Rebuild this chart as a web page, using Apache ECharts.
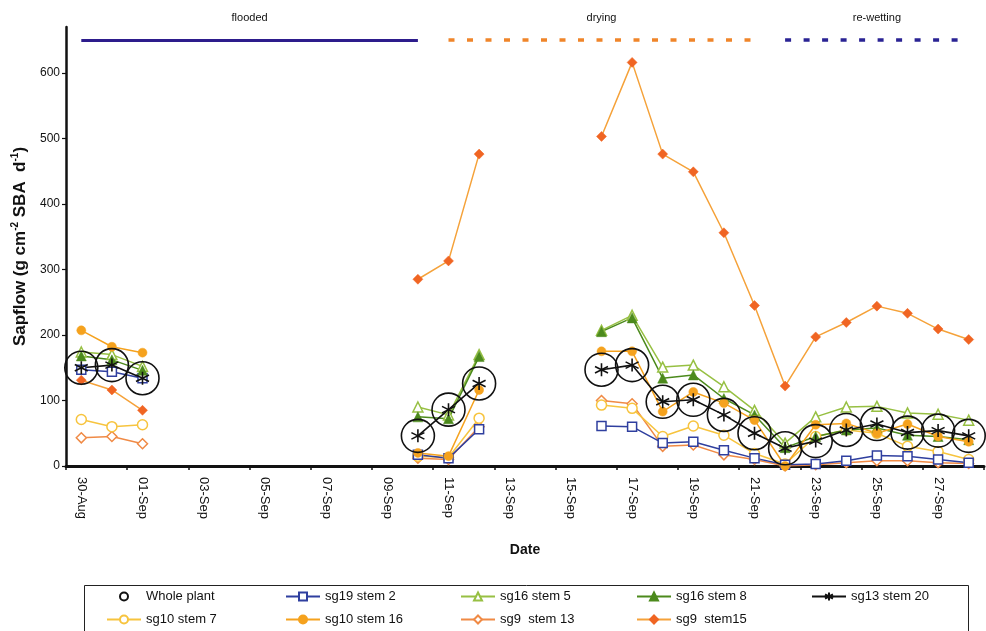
<!DOCTYPE html>
<html>
<head>
<meta charset="utf-8">
<script src="https://cdn.jsdelivr.net/npm/echarts@6/dist/echarts.min.js"></script>
<style>
  html, body { margin: 0; padding: 0; background: #fff; }
  #chart { width: 986px; height: 631px; }
</style>
</head>
<body>
<div id="chart"></div>
<script>
// Daily categories, 30 Aug – 28 Sep
const days = ['30-Aug','31-Aug','01-Sep','02-Sep','03-Sep','04-Sep','05-Sep','06-Sep','07-Sep','08-Sep',
  '09-Sep','10-Sep','11-Sep','12-Sep','13-Sep','14-Sep','15-Sep','16-Sep','17-Sep','18-Sep',
  '19-Sep','20-Sep','21-Sep','22-Sep','23-Sep','24-Sep','25-Sep','26-Sep','27-Sep','28-Sep'];

const yTicks = [0, 100, 200, 300, 400, 500, 600];

// Sap flow (g cm-2 SBA d-1); null = no measurement that day
const _ = null;
const wholePlant = [150,154,134, _,_,_,_,_,_,_,_, 46,86,126, _,_,_, 147,154,98,101,78,50,27,38,55,64,51,54,46];
const sg19stem2  = [147,144,134, _,_,_,_,_,_,_,_, 17,12,56,  _,_,_, 61,60,35,37,24,12,2,3,8,16,15,10,5];
const sg16stem5  = [174,170,152, _,_,_,_,_,_,_,_, 90,78,170, _,_,_, 207,230,151,154,121,85,35,75,90,91,81,79,70];
const sg16stem8  = [168,162,146, _,_,_,_,_,_,_,_, 75,72,167, _,_,_, 205,226,134,139,103,78,28,45,55,58,47,45,40];
const sg13stem20 = [150,154,134, _,_,_,_,_,_,_,_, 46,86,126, _,_,_, 147,154,98,101,78,50,27,38,55,64,51,54,46];
const sg10stem7  = [71,60,63,    _,_,_,_,_,_,_,_, 15,13,73,  _,_,_, 93,88,45,61,47,19,3,45,55,50,30,22,10];
const sg10stem16 = [207,182,173, _,_,_,_,_,_,_,_, 20,15,116, _,_,_, 175,175,83,113,96,70,0,63,65,50,64,45,37];
const sg9stem13  = [43,45,34,    _,_,_,_,_,_,_,_, 12,10,60,  _,_,_, 100,95,30,32,17,10,0,2,5,8,8,5,4];
const sg9stem15  = [131,116,85,  _,_,_,_,_,_,_,_, 285,313,476, _,_,_, 503,616,476,449,356,245,122,197,219,244,233,209,193];

// Treatment periods drawn as bars above the plot
const periodNames = ['flooded', 'drying', 're-wetting'];
const periodStart = ['30-Aug', '11-Sep', '22-Sep'];
const periodEnd   = ['10-Sep', '21-Sep', '28-Sep'];
const periodLevel = 650;

const FONT = '"Liberation Sans", Arial, sans-serif';
const ASTERISK = 'path://M5,0L5,10M0.67,2.5L9.33,7.5M0.67,7.5L9.33,2.5';

function lineSeries(name, data, color, symbol, size, filled, markerColor) {
  return {
    name, type: 'line', data,
    connectNulls: false,
    symbol, symbolSize: size,
    showAllSymbol: true,
    lineStyle: { color, width: 1.5 },
    itemStyle: {
      color: filled ? (markerColor || color) : '#fff',
      borderColor: markerColor || color,
      borderWidth: filled ? 0.5 : 1.5
    },
    emphasis: { disabled: true },
    animation: false
  };
}

const series = [
  {
    name: 'sg9  stem15', type: 'line', data: sg9stem15, connectNulls: false,
    symbol: 'diamond', symbolSize: 10, showAllSymbol: true,
    lineStyle: { color: '#f5a23a', width: 1.5 },
    itemStyle: { color: '#f06523', borderColor: '#f06523', borderWidth: 0.5 },
    emphasis: { disabled: true }, animation: false
  },
  lineSeries('sg9  stem 13', sg9stem13, '#f08a45', 'diamond', 10, false),
  lineSeries('sg10 stem 7', sg10stem7, '#f7c43e', 'circle', 10, false),
  lineSeries('sg19 stem 2', sg19stem2, '#2f3f9f', 'rect', 9, false),
  lineSeries('sg16 stem 5', sg16stem5, '#97c043', 'triangle', 10, false),
  lineSeries('sg16 stem 8', sg16stem8, '#4c8a1c', 'triangle', 10, true),
  lineSeries('sg10 stem 16', sg10stem16, '#f5a21e', 'circle', 9, true),
  {
    name: 'sg13 stem 20', type: 'line', data: sg13stem20, connectNulls: false,
    symbol: ASTERISK, symbolSize: 13, showAllSymbol: true,
    lineStyle: { color: '#111', width: 1.6 },
    itemStyle: { color: '#111', borderColor: '#111', borderWidth: 1.6 },
    emphasis: { disabled: true }, animation: false
  },
  {
    name: 'Whole plant', type: 'line', data: wholePlant, connectNulls: false,
    symbol: 'circle', symbolSize: 33, showAllSymbol: true,
    lineStyle: { width: 0, opacity: 0 },
    itemStyle: { color: 'rgba(0,0,0,0)', borderColor: '#111', borderWidth: 1.6 },
    emphasis: { disabled: true }, animation: false, z: 5
  },
  {
    name: 'periods', type: 'line', data: [], animation: false,
    markLine: {
      silent: true, symbol: 'none', animation: false,
      data: periodNames.map((n, i) => [
        {
          coord: [periodStart[i], periodLevel], name: n,
          lineStyle: i === 0
            ? { color: '#2d1c8c', width: 3, type: 'solid' }
            : { color: i === 1 ? '#f0852a' : '#2a2394', width: 3.5, type: [6, 12.5], cap: 'butt' }
        },
        { coord: [periodEnd[i], periodLevel] }
      ]),
      label: {
        show: true, position: 'insideMiddleTop', distance: 17,
        formatter: p => p.name, color: '#111', fontSize: 11, fontFamily: FONT
      }
    }
  }
];

// One legend block per entry so columns line up
const legendSlots = [
  ['Whole plant', 107, 590], ['sg19 stem 2', 285, 590], ['sg16 stem 5', 460, 590], ['sg16 stem 8', 636, 590], ['sg13 stem 20', 811, 590],
  ['sg10 stem 7', 106, 613], ['sg10 stem 16', 285, 613], ['sg9  stem 13', 460, 613], ['sg9  stem15', 636, 613]
];
const legends = legendSlots.map(([n, x, y]) => ({
  data: [n], left: x, top: y, padding: 0, itemWidth: 34, itemHeight: 10,
  textStyle: { fontSize: 13, color: '#111', fontFamily: FONT },
  selectedMode: false
}));

const chart = echarts.init(document.getElementById('chart'), null, { renderer: 'canvas' });
chart.setOption({
  backgroundColor: '#ffffff',
  animation: false,
  textStyle: { fontFamily: FONT },
  grid: { left: 66, right: 2, top: 27, bottom: 165, containLabel: false },
  legend: legends,
  graphic: [{
    type: 'rect', left: 82, top: 583, silent: true,
    shape: { width: 884, height: 60 },
    style: { fill: 'none', stroke: '#222', lineWidth: 1 }
  }],
  xAxis: {
    type: 'category', data: days, boundaryGap: true,
    name: 'Date', nameLocation: 'middle', nameGap: 77,
    nameTextStyle: { fontSize: 14, fontWeight: 'bold', color: '#111', fontFamily: FONT },
    axisLine: { lineStyle: { color: '#111', width: 3 } },
    axisTick: { show: true, interval: 1, length: 4, alignWithLabel: false, lineStyle: { color: '#111', width: 1.5 } },
    axisLabel: { interval: 1, rotate: -90, margin: 11, fontSize: 13, color: '#111', fontFamily: FONT },
    splitLine: { show: false }
  },
  yAxis: {
    type: 'value', min: 0, max: 670,
    name: '{a|Sapflow (g cm}{s|-2}{a| SBA  d}{s|-1}{a|)}',
    nameLocation: 'middle', nameGap: 31, nameRotate: 90,
    nameTextStyle: {
      rich: {
        a: { fontSize: 17, fontWeight: 'bold', color: '#111', fontFamily: FONT, lineHeight: 20 },
        s: { fontSize: 10, fontWeight: 'bold', color: '#111', fontFamily: FONT, verticalAlign: 'top', lineHeight: 20, padding: [0, 0, 9, 0] }
      }
    },
    axisLine: { show: true, lineStyle: { color: '#111', width: 2.5 } },
    axisTick: { show: true, length: 4, customValues: yTicks, lineStyle: { color: '#111', width: 1.2 } },
    axisLabel: { customValues: yTicks, margin: 6, fontSize: 12, color: '#111', fontFamily: FONT },
    splitLine: { show: false }
  },
  series
});
</script>
</body>
</html>
